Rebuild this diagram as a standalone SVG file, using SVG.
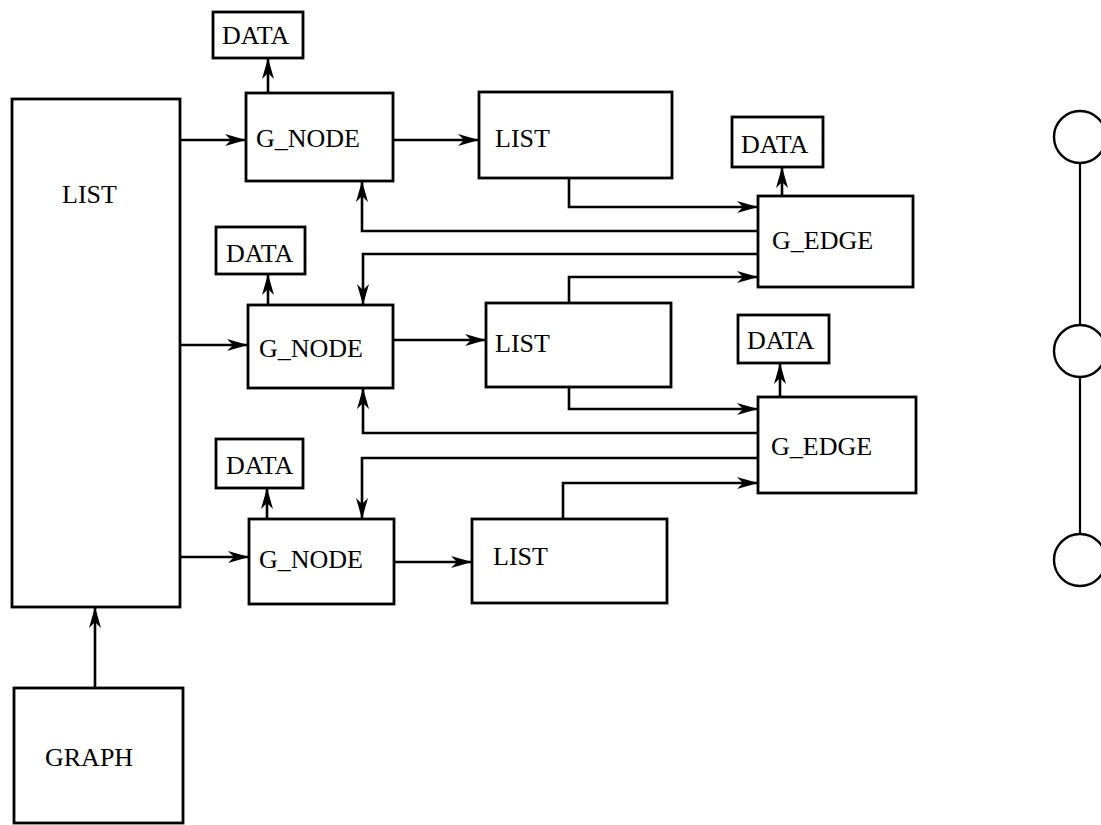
<svg xmlns="http://www.w3.org/2000/svg" width="1101" height="825" viewBox="0 0 1101 825">
<style>
.box{fill:#fff;stroke:#000;stroke-width:2.8}
.lbl{font-family:"Liberation Serif","Times New Roman",serif;font-size:26px;fill:#000}
.con{fill:none;stroke:#000;stroke-width:2.6;marker-end:url(#ah)}
.plain{fill:none;stroke:#000;stroke-width:2.2}
.circ{fill:#fff;stroke:#000;stroke-width:2.4}
</style>
<defs>
<marker id="ah" markerUnits="userSpaceOnUse" markerWidth="22" markerHeight="14" refX="21" refY="7" orient="auto">
<path d="M0,1 L21,7 L0,13 L6,7 z" fill="#000"/>
</marker>
</defs>
<rect width="1101" height="825" fill="#fff"/>
<g id="connectors">
<path class="con" d="M180,140 H246"/>
<path class="con" d="M180,345 H248"/>
<path class="con" d="M180,557 H249"/>
<path class="con" d="M95,688 V607"/>
<path class="con" d="M268,93 V58"/>
<path class="con" d="M268,305 V274"/>
<path class="con" d="M267,519 V488"/>
<path class="con" d="M393,140 H479"/>
<path class="con" d="M393,340 H486"/>
<path class="con" d="M394,562 H472"/>
<path class="con" d="M569,178 V207 H758"/>
<path class="con" d="M758,231 H362 V181"/>
<path class="con" d="M758,254 H363 V305"/>
<path class="con" d="M569,303 V277 H758"/>
<path class="con" d="M782,196 V167"/>
<path class="con" d="M569,387 V409 H758"/>
<path class="con" d="M758,433 H363 V388"/>
<path class="con" d="M758,458 H362 V519"/>
<path class="con" d="M563,519 V483 H758"/>
<path class="con" d="M780,397 V363"/>
<path class="plain" d="M1080,163 V325 M1080,377 V534"/>
</g>
<g id="list_main"><rect class="box" x="12" y="99" width="168" height="508"/><text class="lbl" x="62" y="203">LIST</text></g>
<g id="graph"><rect class="box" x="14" y="688" width="169" height="135"/><text class="lbl" x="45" y="766">GRAPH</text></g>
<g id="data1"><rect class="box" x="213" y="12" width="90" height="46"/><text class="lbl" x="222" y="44">DATA</text></g>
<g id="gnode1"><rect class="box" x="246" y="93" width="147" height="88"/><text class="lbl" x="256" y="147">G_NODE</text></g>
<g id="list1"><rect class="box" x="479" y="92" width="193" height="86"/><text class="lbl" x="495" y="147">LIST</text></g>
<g id="data3"><rect class="box" x="732" y="117" width="91" height="50"/><text class="lbl" x="741" y="153">DATA</text></g>
<g id="gedge1"><rect class="box" x="758" y="196" width="155" height="91"/><text class="lbl" x="772" y="249">G_EDGE</text></g>
<g id="data2"><rect class="box" x="216" y="227" width="89" height="47"/><text class="lbl" x="226" y="262">DATA</text></g>
<g id="gnode2"><rect class="box" x="248" y="305" width="145" height="83"/><text class="lbl" x="259" y="357">G_NODE</text></g>
<g id="list2"><rect class="box" x="486" y="303" width="185" height="84"/><text class="lbl" x="495" y="352">LIST</text></g>
<g id="data4"><rect class="box" x="738" y="315" width="91" height="48"/><text class="lbl" x="747" y="349">DATA</text></g>
<g id="gedge2"><rect class="box" x="758" y="397" width="158" height="96"/><text class="lbl" x="771" y="455">G_EDGE</text></g>
<g id="data5"><rect class="box" x="216" y="439" width="87" height="49"/><text class="lbl" x="226" y="474">DATA</text></g>
<g id="gnode3"><rect class="box" x="249" y="519" width="145" height="85"/><text class="lbl" x="259" y="568">G_NODE</text></g>
<g id="list3"><rect class="box" x="472" y="519" width="195" height="84"/><text class="lbl" x="493" y="565">LIST</text></g>
<g id="circle1"><circle class="circ" cx="1080" cy="137" r="26"/></g>
<g id="circle2"><circle class="circ" cx="1080" cy="351" r="26"/></g>
<g id="circle3"><circle class="circ" cx="1080" cy="560" r="26"/></g>
</svg>
